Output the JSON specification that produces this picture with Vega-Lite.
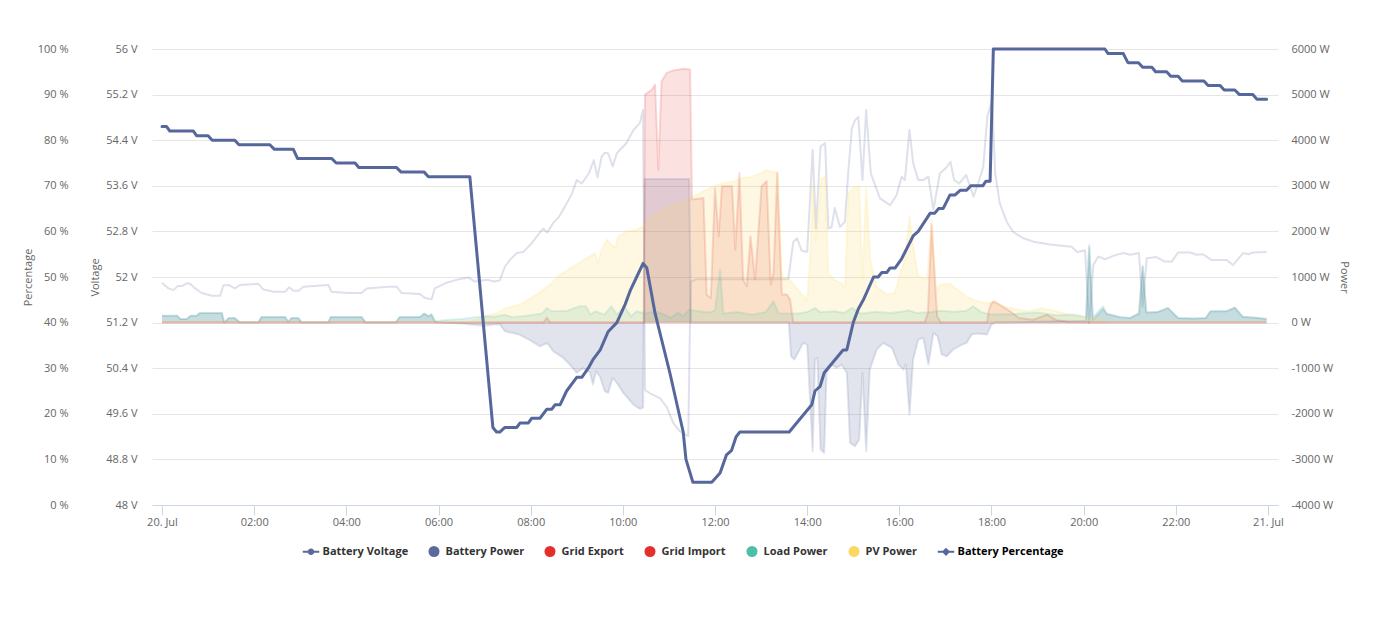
{
"$schema": "https://vega.github.io/schema/vega-lite/v6.json",
"width": 1126, "height": 456,
"autosize": {"type": "none"},
"padding": {"left": 152, "top": 49, "right": 97, "bottom": 130},
"background": "#ffffff",
"config": {
  "font": "Open Sans",
  "view": {"stroke": null},
  "axis": {"labelFont": "Open Sans", "labelFontSize": 11, "labelColor": "#666666", "titleFont": "Open Sans", "titleFontSize": 11, "titleFontWeight": "normal", "titleColor": "#666666"}
},
"datasets": {
"pct": [
{"s":"Battery Percentage","h":0,"p":83},{"s":"Battery Percentage","h":0.10,"p":83},{"s":"Battery Percentage","h":0.17,"p":82},{"s":"Battery Percentage","h":0.68,"p":82},{"s":"Battery Percentage","h":0.75,"p":81},{"s":"Battery Percentage","h":1.00,"p":81},{"s":"Battery Percentage","h":1.09,"p":80},{"s":"Battery Percentage","h":1.58,"p":80},{"s":"Battery Percentage","h":1.67,"p":79},{"s":"Battery Percentage","h":2.34,"p":79},{"s":"Battery Percentage","h":2.44,"p":78},{"s":"Battery Percentage","h":2.85,"p":78},{"s":"Battery Percentage","h":2.94,"p":76},{"s":"Battery Percentage","h":3.68,"p":76},{"s":"Battery Percentage","h":3.78,"p":75},{"s":"Battery Percentage","h":4.19,"p":75},{"s":"Battery Percentage","h":4.27,"p":74},{"s":"Battery Percentage","h":5.09,"p":74},{"s":"Battery Percentage","h":5.19,"p":73},{"s":"Battery Percentage","h":5.69,"p":73},{"s":"Battery Percentage","h":5.78,"p":72},{"s":"Battery Percentage","h":6.68,"p":72},
{"s":"Battery Percentage","h":7.18,"p":17},{"s":"Battery Percentage","h":7.26,"p":16},{"s":"Battery Percentage","h":7.33,"p":16},{"s":"Battery Percentage","h":7.44,"p":17},{"s":"Battery Percentage","h":7.70,"p":17},{"s":"Battery Percentage","h":7.77,"p":18},{"s":"Battery Percentage","h":7.95,"p":18},{"s":"Battery Percentage","h":8.02,"p":19},{"s":"Battery Percentage","h":8.20,"p":19},{"s":"Battery Percentage","h":8.35,"p":21},{"s":"Battery Percentage","h":8.46,"p":21},{"s":"Battery Percentage","h":8.53,"p":22},{"s":"Battery Percentage","h":8.64,"p":22},{"s":"Battery Percentage","h":8.78,"p":25},{"s":"Battery Percentage","h":9.00,"p":28},{"s":"Battery Percentage","h":9.11,"p":28},{"s":"Battery Percentage","h":9.25,"p":30},{"s":"Battery Percentage","h":9.36,"p":32},{"s":"Battery Percentage","h":9.51,"p":34},{"s":"Battery Percentage","h":9.68,"p":38},{"s":"Battery Percentage","h":9.87,"p":40},{"s":"Battery Percentage","h":10.05,"p":44},{"s":"Battery Percentage","h":10.16,"p":47},{"s":"Battery Percentage","h":10.30,"p":50},{"s":"Battery Percentage","h":10.44,"p":53},{"s":"Battery Percentage","h":10.52,"p":52},{"s":"Battery Percentage","h":10.70,"p":42},{"s":"Battery Percentage","h":11.02,"p":29},{"s":"Battery Percentage","h":11.31,"p":16},{"s":"Battery Percentage","h":11.37,"p":10},{"s":"Battery Percentage","h":11.52,"p":5},{"s":"Battery Percentage","h":11.93,"p":5},{"s":"Battery Percentage","h":12.11,"p":7},{"s":"Battery Percentage","h":12.25,"p":11},{"s":"Battery Percentage","h":12.36,"p":12},{"s":"Battery Percentage","h":12.46,"p":15},{"s":"Battery Percentage","h":12.54,"p":16},{"s":"Battery Percentage","h":13.61,"p":16},{"s":"Battery Percentage","h":14.10,"p":22},{"s":"Battery Percentage","h":14.17,"p":25},{"s":"Battery Percentage","h":14.28,"p":26},{"s":"Battery Percentage","h":14.37,"p":29},{"s":"Battery Percentage","h":14.78,"p":34},{"s":"Battery Percentage","h":14.86,"p":34},{"s":"Battery Percentage","h":15.00,"p":40},{"s":"Battery Percentage","h":15.11,"p":43},{"s":"Battery Percentage","h":15.22,"p":45},{"s":"Battery Percentage","h":15.44,"p":50},{"s":"Battery Percentage","h":15.54,"p":50},{"s":"Battery Percentage","h":15.62,"p":51},{"s":"Battery Percentage","h":15.73,"p":51},{"s":"Battery Percentage","h":15.80,"p":52},{"s":"Battery Percentage","h":15.91,"p":52},{"s":"Battery Percentage","h":16.05,"p":54},{"s":"Battery Percentage","h":16.30,"p":59},{"s":"Battery Percentage","h":16.41,"p":60},{"s":"Battery Percentage","h":16.67,"p":64},{"s":"Battery Percentage","h":16.77,"p":64},{"s":"Battery Percentage","h":16.85,"p":65},{"s":"Battery Percentage","h":16.95,"p":65},{"s":"Battery Percentage","h":17.10,"p":68},{"s":"Battery Percentage","h":17.21,"p":68},{"s":"Battery Percentage","h":17.32,"p":69},{"s":"Battery Percentage","h":17.46,"p":69},{"s":"Battery Percentage","h":17.55,"p":70},{"s":"Battery Percentage","h":17.81,"p":70},{"s":"Battery Percentage","h":17.88,"p":71},{"s":"Battery Percentage","h":17.97,"p":71},{"s":"Battery Percentage","h":18.04,"p":100},{"s":"Battery Percentage","h":20.46,"p":100},{"s":"Battery Percentage","h":20.53,"p":99},{"s":"Battery Percentage","h":20.86,"p":99},{"s":"Battery Percentage","h":20.96,"p":97},{"s":"Battery Percentage","h":21.19,"p":97},{"s":"Battery Percentage","h":21.28,"p":96},{"s":"Battery Percentage","h":21.48,"p":96},{"s":"Battery Percentage","h":21.56,"p":95},{"s":"Battery Percentage","h":21.80,"p":95},{"s":"Battery Percentage","h":21.89,"p":94},{"s":"Battery Percentage","h":22.05,"p":94},{"s":"Battery Percentage","h":22.14,"p":93},{"s":"Battery Percentage","h":22.61,"p":93},{"s":"Battery Percentage","h":22.70,"p":92},{"s":"Battery Percentage","h":22.96,"p":92},{"s":"Battery Percentage","h":23.05,"p":91},{"s":"Battery Percentage","h":23.28,"p":91},{"s":"Battery Percentage","h":23.38,"p":90},{"s":"Battery Percentage","h":23.67,"p":90},{"s":"Battery Percentage","h":23.76,"p":89},{"s":"Battery Percentage","h":23.97,"p":89}
],
"volt": [
{"s":"Battery Voltage","h":0,"v":51.90},{"s":"Battery Voltage","h":0.14,"v":51.80},{"s":"Battery Voltage","h":0.25,"v":51.77},{"s":"Battery Voltage","h":0.34,"v":51.84},{"s":"Battery Voltage","h":0.43,"v":51.84},{"s":"Battery Voltage","h":0.54,"v":51.89},{"s":"Battery Voltage","h":0.61,"v":51.88},{"s":"Battery Voltage","h":0.72,"v":51.80},{"s":"Battery Voltage","h":0.86,"v":51.72},{"s":"Battery Voltage","h":1.08,"v":51.67},{"s":"Battery Voltage","h":1.26,"v":51.67},{"s":"Battery Voltage","h":1.33,"v":51.85},{"s":"Battery Voltage","h":1.44,"v":51.86},{"s":"Battery Voltage","h":1.58,"v":51.80},{"s":"Battery Voltage","h":1.69,"v":51.86},{"s":"Battery Voltage","h":2.09,"v":51.88},{"s":"Battery Voltage","h":2.20,"v":51.78},{"s":"Battery Voltage","h":2.42,"v":51.74},{"s":"Battery Voltage","h":2.67,"v":51.74},{"s":"Battery Voltage","h":2.76,"v":51.82},{"s":"Battery Voltage","h":2.85,"v":51.76},{"s":"Battery Voltage","h":2.96,"v":51.76},{"s":"Battery Voltage","h":3.07,"v":51.83},{"s":"Battery Voltage","h":3.61,"v":51.86},{"s":"Battery Voltage","h":3.68,"v":51.74},{"s":"Battery Voltage","h":4.04,"v":51.72},{"s":"Battery Voltage","h":4.33,"v":51.72},{"s":"Battery Voltage","h":4.44,"v":51.80},{"s":"Battery Voltage","h":4.91,"v":51.83},{"s":"Battery Voltage","h":5.09,"v":51.83},{"s":"Battery Voltage","h":5.20,"v":51.72},{"s":"Battery Voltage","h":5.60,"v":51.70},{"s":"Battery Voltage","h":5.71,"v":51.63},{"s":"Battery Voltage","h":5.85,"v":51.61},{"s":"Battery Voltage","h":5.92,"v":51.80},{"s":"Battery Voltage","h":6.14,"v":51.89},{"s":"Battery Voltage","h":6.39,"v":51.95},{"s":"Battery Voltage","h":6.65,"v":51.99},{"s":"Battery Voltage","h":6.79,"v":51.92},{"s":"Battery Voltage","h":7.08,"v":51.95},{"s":"Battery Voltage","h":7.19,"v":51.92},{"s":"Battery Voltage","h":7.33,"v":51.94},{"s":"Battery Voltage","h":7.44,"v":52.18},{"s":"Battery Voltage","h":7.55,"v":52.30},{"s":"Battery Voltage","h":7.70,"v":52.42},{"s":"Battery Voltage","h":7.84,"v":52.44},{"s":"Battery Voltage","h":8.02,"v":52.59},{"s":"Battery Voltage","h":8.13,"v":52.71},{"s":"Battery Voltage","h":8.27,"v":52.85},{"s":"Battery Voltage","h":8.36,"v":52.78},{"s":"Battery Voltage","h":8.49,"v":52.95},{"s":"Battery Voltage","h":8.62,"v":53.06},{"s":"Battery Voltage","h":8.78,"v":53.29},{"s":"Battery Voltage","h":8.89,"v":53.45},{"s":"Battery Voltage","h":9.00,"v":53.70},{"s":"Battery Voltage","h":9.11,"v":53.64},{"s":"Battery Voltage","h":9.27,"v":53.83},{"s":"Battery Voltage","h":9.37,"v":54.05},{"s":"Battery Voltage","h":9.45,"v":53.75},{"s":"Battery Voltage","h":9.54,"v":54.11},{"s":"Battery Voltage","h":9.61,"v":54.18},{"s":"Battery Voltage","h":9.68,"v":54.17},{"s":"Battery Voltage","h":9.78,"v":53.94},{"s":"Battery Voltage","h":9.87,"v":54.17},{"s":"Battery Voltage","h":10.08,"v":54.35},{"s":"Battery Voltage","h":10.23,"v":54.58},{"s":"Battery Voltage","h":10.37,"v":54.70},{"s":"Battery Voltage","h":10.44,"v":54.93},{"s":"Battery Voltage","h":10.48,"v":50.02},{"s":"Battery Voltage","h":10.59,"v":49.96},{"s":"Battery Voltage","h":10.81,"v":49.87},{"s":"Battery Voltage","h":10.95,"v":49.72},{"s":"Battery Voltage","h":11.10,"v":49.43},{"s":"Battery Voltage","h":11.24,"v":49.29},{"s":"Battery Voltage","h":11.42,"v":49.21},{"s":"Battery Voltage","h":11.47,"v":51.92},{"s":"Battery Voltage","h":11.60,"v":51.96},{"s":"Battery Voltage","h":13.59,"v":51.96},{"s":"Battery Voltage","h":13.70,"v":52.62},{"s":"Battery Voltage","h":13.78,"v":52.68},{"s":"Battery Voltage","h":13.88,"v":52.46},{"s":"Battery Voltage","h":14.00,"v":52.44},{"s":"Battery Voltage","h":14.12,"v":54.23},{"s":"Battery Voltage","h":14.19,"v":52.85},{"s":"Battery Voltage","h":14.29,"v":54.29},{"s":"Battery Voltage","h":14.39,"v":54.35},{"s":"Battery Voltage","h":14.46,"v":52.85},{"s":"Battery Voltage","h":14.53,"v":52.88},{"s":"Battery Voltage","h":14.60,"v":53.21},{"s":"Battery Voltage","h":14.71,"v":52.88},{"s":"Battery Voltage","h":14.82,"v":52.97},{"s":"Battery Voltage","h":14.89,"v":53.82},{"s":"Battery Voltage","h":14.97,"v":54.61},{"s":"Battery Voltage","h":15.04,"v":54.75},{"s":"Battery Voltage","h":15.11,"v":54.81},{"s":"Battery Voltage","h":15.20,"v":53.70},{"s":"Battery Voltage","h":15.28,"v":54.93},{"s":"Battery Voltage","h":15.38,"v":53.82},{"s":"Battery Voltage","h":15.58,"v":53.38},{"s":"Battery Voltage","h":15.80,"v":53.26},{"s":"Battery Voltage","h":15.94,"v":53.44},{"s":"Battery Voltage","h":16.05,"v":53.76},{"s":"Battery Voltage","h":16.12,"v":53.70},{"s":"Battery Voltage","h":16.22,"v":54.58},{"s":"Battery Voltage","h":16.30,"v":54.00},{"s":"Battery Voltage","h":16.41,"v":53.70},{"s":"Battery Voltage","h":16.52,"v":53.70},{"s":"Battery Voltage","h":16.63,"v":53.76},{"s":"Battery Voltage","h":16.74,"v":53.18},{"s":"Battery Voltage","h":16.88,"v":53.82},{"s":"Battery Voltage","h":17.01,"v":53.91},{"s":"Battery Voltage","h":17.11,"v":54.02},{"s":"Battery Voltage","h":17.19,"v":53.70},{"s":"Battery Voltage","h":17.30,"v":53.64},{"s":"Battery Voltage","h":17.45,"v":53.79},{"s":"Battery Voltage","h":17.61,"v":53.41},{"s":"Battery Voltage","h":17.71,"v":53.64},{"s":"Battery Voltage","h":17.82,"v":53.93},{"s":"Battery Voltage","h":17.91,"v":54.81},{"s":"Battery Voltage","h":18.01,"v":55.10},{"s":"Battery Voltage","h":18.05,"v":54.40},{"s":"Battery Voltage","h":18.08,"v":53.82},{"s":"Battery Voltage","h":18.18,"v":53.29},{"s":"Battery Voltage","h":18.33,"v":52.97},{"s":"Battery Voltage","h":18.47,"v":52.79},{"s":"Battery Voltage","h":18.69,"v":52.68},{"s":"Battery Voltage","h":18.91,"v":52.62},{"s":"Battery Voltage","h":19.27,"v":52.57},{"s":"Battery Voltage","h":19.74,"v":52.53},{"s":"Battery Voltage","h":19.86,"v":52.44},{"s":"Battery Voltage","h":20.03,"v":52.47},{"s":"Battery Voltage","h":20.12,"v":51.19},{"s":"Battery Voltage","h":20.21,"v":52.21},{"s":"Battery Voltage","h":20.32,"v":52.36},{"s":"Battery Voltage","h":20.46,"v":52.31},{"s":"Battery Voltage","h":20.64,"v":52.37},{"s":"Battery Voltage","h":20.86,"v":52.42},{"s":"Battery Voltage","h":21.01,"v":52.39},{"s":"Battery Voltage","h":21.20,"v":52.42},{"s":"Battery Voltage","h":21.28,"v":51.48},{"s":"Battery Voltage","h":21.37,"v":52.33},{"s":"Battery Voltage","h":21.58,"v":52.35},{"s":"Battery Voltage","h":21.76,"v":52.27},{"s":"Battery Voltage","h":21.91,"v":52.27},{"s":"Battery Voltage","h":22.05,"v":52.43},{"s":"Battery Voltage","h":22.31,"v":52.43},{"s":"Battery Voltage","h":22.45,"v":52.39},{"s":"Battery Voltage","h":22.59,"v":52.40},{"s":"Battery Voltage","h":22.77,"v":52.30},{"s":"Battery Voltage","h":23.10,"v":52.30},{"s":"Battery Voltage","h":23.24,"v":52.21},{"s":"Battery Voltage","h":23.46,"v":52.42},{"s":"Battery Voltage","h":23.57,"v":52.40},{"s":"Battery Voltage","h":23.67,"v":52.43},{"s":"Battery Voltage","h":23.97,"v":52.44}
],
"pow": [
{"s":"Battery Power","h":0,"w":150},{"s":"Battery Power","h":0.33,"w":150},{"s":"Battery Power","h":0.40,"w":80},{"s":"Battery Power","h":0.54,"w":80},{"s":"Battery Power","h":0.62,"w":150},{"s":"Battery Power","h":0.75,"w":150},{"s":"Battery Power","h":0.82,"w":210},{"s":"Battery Power","h":1.30,"w":210},{"s":"Battery Power","h":1.35,"w":5},{"s":"Battery Power","h":1.45,"w":100},{"s":"Battery Power","h":1.58,"w":100},{"s":"Battery Power","h":1.69,"w":5},{"s":"Battery Power","h":2.09,"w":5},{"s":"Battery Power","h":2.16,"w":125},{"s":"Battery Power","h":2.67,"w":125},{"s":"Battery Power","h":2.74,"w":20},{"s":"Battery Power","h":2.81,"w":100},{"s":"Battery Power","h":2.96,"w":100},{"s":"Battery Power","h":3.03,"w":5},{"s":"Battery Power","h":3.61,"w":5},{"s":"Battery Power","h":3.66,"w":125},{"s":"Battery Power","h":4.33,"w":125},{"s":"Battery Power","h":4.42,"w":5},{"s":"Battery Power","h":5.07,"w":5},{"s":"Battery Power","h":5.16,"w":125},{"s":"Battery Power","h":5.60,"w":125},{"s":"Battery Power","h":5.69,"w":197},{"s":"Battery Power","h":5.78,"w":140},{"s":"Battery Power","h":5.85,"w":180},{"s":"Battery Power","h":5.92,"w":30},
{"s":"Battery Power","h":6.0,"w":0},{"s":"Battery Power","h":6.5,"w":-20},{"s":"Battery Power","h":6.8,"w":-50},{"s":"Battery Power","h":7.0,"w":-70},{"s":"Battery Power","h":7.2,"w":-40},{"s":"Battery Power","h":7.33,"w":-40},{"s":"Battery Power","h":7.44,"w":-190},{"s":"Battery Power","h":7.75,"w":-263},{"s":"Battery Power","h":7.96,"w":-373},{"s":"Battery Power","h":8.20,"w":-520},{"s":"Battery Power","h":8.36,"w":-445},{"s":"Battery Power","h":8.49,"w":-630},{"s":"Battery Power","h":8.71,"w":-775},{"s":"Battery Power","h":8.85,"w":-920},{"s":"Battery Power","h":9.00,"w":-1100},{"s":"Battery Power","h":9.14,"w":-995},{"s":"Battery Power","h":9.29,"w":-1100},{"s":"Battery Power","h":9.35,"w":-1360},{"s":"Battery Power","h":9.42,"w":-1068},{"s":"Battery Power","h":9.50,"w":-1178},{"s":"Battery Power","h":9.61,"w":-1507},{"s":"Battery Power","h":9.68,"w":-1542},{"s":"Battery Power","h":9.78,"w":-1213},{"s":"Battery Power","h":9.87,"w":-1322},{"s":"Battery Power","h":10.01,"w":-1542},{"s":"Battery Power","h":10.23,"w":-1798},{"s":"Battery Power","h":10.37,"w":-1893},{"s":"Battery Power","h":10.44,"w":-1870},{"s":"Battery Power","h":10.47,"w":3150},{"s":"Battery Power","h":11.44,"w":3150},{"s":"Battery Power","h":11.48,"w":0},{"s":"Battery Power","h":13.60,"w":0},{"s":"Battery Power","h":13.65,"w":-740},{"s":"Battery Power","h":13.72,"w":-811},{"s":"Battery Power","h":13.82,"w":-630},{"s":"Battery Power","h":13.91,"w":-445},{"s":"Battery Power","h":14.00,"w":-482},{"s":"Battery Power","h":14.12,"w":-2822},{"s":"Battery Power","h":14.17,"w":-811},{"s":"Battery Power","h":14.22,"w":-775},{"s":"Battery Power","h":14.29,"w":-2785},{"s":"Battery Power","h":14.37,"w":-2858},{"s":"Battery Power","h":14.42,"w":-1103},{"s":"Battery Power","h":14.53,"w":-921},{"s":"Battery Power","h":14.64,"w":-994},{"s":"Battery Power","h":14.75,"w":-921},{"s":"Battery Power","h":14.86,"w":-1103},{"s":"Battery Power","h":14.93,"w":-2638},{"s":"Battery Power","h":15.04,"w":-2712},{"s":"Battery Power","h":15.13,"w":-2566},{"s":"Battery Power","h":15.20,"w":-1103},{"s":"Battery Power","h":15.28,"w":-2822},{"s":"Battery Power","h":15.36,"w":-1030},{"s":"Battery Power","h":15.51,"w":-592},{"s":"Battery Power","h":15.65,"w":-445},{"s":"Battery Power","h":15.84,"w":-555},{"s":"Battery Power","h":15.98,"w":-921},{"s":"Battery Power","h":16.09,"w":-1030},{"s":"Battery Power","h":16.14,"w":-921},{"s":"Battery Power","h":16.22,"w":-2017},{"s":"Battery Power","h":16.30,"w":-811},{"s":"Battery Power","h":16.41,"w":-373},{"s":"Battery Power","h":16.52,"w":-336},{"s":"Battery Power","h":16.63,"w":-921},{"s":"Battery Power","h":16.74,"w":-226},{"s":"Battery Power","h":16.83,"w":-300},{"s":"Battery Power","h":16.92,"w":-702},{"s":"Battery Power","h":17.03,"w":-739},{"s":"Battery Power","h":17.17,"w":-592},{"s":"Battery Power","h":17.36,"w":-482},{"s":"Battery Power","h":17.46,"w":-445},{"s":"Battery Power","h":17.57,"w":-263},{"s":"Battery Power","h":17.68,"w":-241},{"s":"Battery Power","h":17.90,"w":-263},{"s":"Battery Power","h":18.00,"w":-44},{"s":"Battery Power","h":18.08,"w":0},{"s":"Battery Power","h":20.05,"w":40},{"s":"Battery Power","h":20.12,"w":1650},{"s":"Battery Power","h":20.20,"w":60},{"s":"Battery Power","h":20.42,"w":300},{"s":"Battery Power","h":20.50,"w":190},{"s":"Battery Power","h":20.80,"w":120},{"s":"Battery Power","h":21.00,"w":100},{"s":"Battery Power","h":21.20,"w":200},{"s":"Battery Power","h":21.28,"w":1235},{"s":"Battery Power","h":21.36,"w":220},{"s":"Battery Power","h":21.60,"w":230},{"s":"Battery Power","h":21.83,"w":322},{"s":"Battery Power","h":22.05,"w":100},{"s":"Battery Power","h":22.40,"w":90},{"s":"Battery Power","h":22.65,"w":100},{"s":"Battery Power","h":22.75,"w":250},{"s":"Battery Power","h":23.10,"w":250},{"s":"Battery Power","h":23.28,"w":330},{"s":"Battery Power","h":23.45,"w":130},{"s":"Battery Power","h":23.80,"w":100},{"s":"Battery Power","h":23.97,"w":80},
{"s":"Grid Export","h":0,"w":0},{"s":"Grid Export","h":8.28,"w":0},{"s":"Grid Export","h":8.35,"w":110},{"s":"Grid Export","h":8.42,"w":0},{"s":"Grid Export","h":10.46,"w":0},{"s":"Grid Export","h":10.48,"w":5000},{"s":"Grid Export","h":10.63,"w":5110},{"s":"Grid Export","h":10.70,"w":5220},{"s":"Grid Export","h":10.77,"w":3355},{"s":"Grid Export","h":10.84,"w":5290},{"s":"Grid Export","h":10.95,"w":5475},{"s":"Grid Export","h":11.09,"w":5530},{"s":"Grid Export","h":11.31,"w":5565},{"s":"Grid Export","h":11.46,"w":5550},{"s":"Grid Export","h":11.50,"w":2700},{"s":"Grid Export","h":11.75,"w":2734},{"s":"Grid Export","h":11.82,"w":614},{"s":"Grid Export","h":11.91,"w":541},{"s":"Grid Export","h":12.00,"w":2950},{"s":"Grid Export","h":12.08,"w":1893},{"s":"Grid Export","h":12.15,"w":2990},{"s":"Grid Export","h":12.37,"w":2990},{"s":"Grid Export","h":12.44,"w":1600},{"s":"Grid Export","h":12.53,"w":3283},{"s":"Grid Export","h":12.61,"w":943},{"s":"Grid Export","h":12.69,"w":800},{"s":"Grid Export","h":12.77,"w":1893},{"s":"Grid Export","h":12.87,"w":943},{"s":"Grid Export","h":13.01,"w":2990},{"s":"Grid Export","h":13.12,"w":3100},{"s":"Grid Export","h":13.21,"w":833},{"s":"Grid Export","h":13.27,"w":1090},{"s":"Grid Export","h":13.35,"w":3283},{"s":"Grid Export","h":13.45,"w":614},{"s":"Grid Export","h":13.56,"w":614},{"s":"Grid Export","h":13.63,"w":504},{"s":"Grid Export","h":13.70,"w":0},{"s":"Grid Export","h":16.55,"w":0},{"s":"Grid Export","h":16.62,"w":212},{"s":"Grid Export","h":16.70,"w":2150},{"s":"Grid Export","h":16.82,"w":140},{"s":"Grid Export","h":16.90,"w":0},{"s":"Grid Export","h":17.90,"w":0},{"s":"Grid Export","h":17.95,"w":300},{"s":"Grid Export","h":18.00,"w":420},{"s":"Grid Export","h":18.05,"w":467},{"s":"Grid Export","h":18.20,"w":380},{"s":"Grid Export","h":18.40,"w":248},{"s":"Grid Export","h":18.60,"w":102},{"s":"Grid Export","h":18.90,"w":60},{"s":"Grid Export","h":19.20,"w":175},{"s":"Grid Export","h":19.40,"w":60},{"s":"Grid Export","h":19.70,"w":10},{"s":"Grid Export","h":19.85,"w":0},{"s":"Grid Export","h":23.97,"w":0},
{"s":"Grid Import","h":0,"w":0},{"s":"Grid Import","h":23.97,"w":0},
{"s":"Load Power","h":0,"w":150},{"s":"Load Power","h":0.33,"w":150},{"s":"Load Power","h":0.40,"w":80},{"s":"Load Power","h":0.54,"w":80},{"s":"Load Power","h":0.62,"w":150},{"s":"Load Power","h":0.75,"w":150},{"s":"Load Power","h":0.82,"w":210},{"s":"Load Power","h":1.30,"w":210},{"s":"Load Power","h":1.35,"w":5},{"s":"Load Power","h":1.45,"w":100},{"s":"Load Power","h":1.58,"w":100},{"s":"Load Power","h":1.69,"w":5},{"s":"Load Power","h":2.09,"w":5},{"s":"Load Power","h":2.16,"w":125},{"s":"Load Power","h":2.67,"w":125},{"s":"Load Power","h":2.74,"w":20},{"s":"Load Power","h":2.81,"w":100},{"s":"Load Power","h":2.96,"w":100},{"s":"Load Power","h":3.03,"w":5},{"s":"Load Power","h":3.61,"w":5},{"s":"Load Power","h":3.66,"w":125},{"s":"Load Power","h":4.33,"w":125},{"s":"Load Power","h":4.42,"w":5},{"s":"Load Power","h":5.07,"w":5},{"s":"Load Power","h":5.16,"w":125},{"s":"Load Power","h":5.60,"w":125},{"s":"Load Power","h":5.69,"w":197},{"s":"Load Power","h":5.78,"w":140},{"s":"Load Power","h":5.85,"w":180},{"s":"Load Power","h":5.92,"w":30},{"s":"Load Power","h":6.2,"w":60},{"s":"Load Power","h":6.5,"w":80},{"s":"Load Power","h":6.79,"w":120},{"s":"Load Power","h":7.0,"w":140},{"s":"Load Power","h":7.2,"w":130},{"s":"Load Power","h":7.44,"w":170},{"s":"Load Power","h":7.6,"w":120},{"s":"Load Power","h":7.9,"w":150},{"s":"Load Power","h":8.25,"w":200},{"s":"Load Power","h":8.35,"w":320},{"s":"Load Power","h":8.45,"w":250},{"s":"Load Power","h":8.8,"w":260},{"s":"Load Power","h":9.06,"w":360},{"s":"Load Power","h":9.2,"w":360},{"s":"Load Power","h":9.3,"w":175},{"s":"Load Power","h":9.4,"w":250},{"s":"Load Power","h":9.6,"w":175},{"s":"Load Power","h":9.75,"w":360},{"s":"Load Power","h":9.87,"w":175},{"s":"Load Power","h":10.03,"w":360},{"s":"Load Power","h":10.18,"w":140},{"s":"Load Power","h":10.3,"w":250},{"s":"Load Power","h":10.5,"w":200},{"s":"Load Power","h":10.7,"w":250},{"s":"Load Power","h":10.9,"w":175},{"s":"Load Power","h":11.05,"w":100},{"s":"Load Power","h":11.2,"w":220},{"s":"Load Power","h":11.3,"w":140},{"s":"Load Power","h":11.45,"w":280},{"s":"Load Power","h":11.65,"w":250},{"s":"Load Power","h":11.9,"w":220},{"s":"Load Power","h":12.0,"w":280},{"s":"Load Power","h":12.11,"w":1160},{"s":"Load Power","h":12.18,"w":200},{"s":"Load Power","h":12.5,"w":230},{"s":"Load Power","h":12.8,"w":170},{"s":"Load Power","h":13.1,"w":230},{"s":"Load Power","h":13.27,"w":467},{"s":"Load Power","h":13.38,"w":200},{"s":"Load Power","h":13.8,"w":200},{"s":"Load Power","h":14.0,"w":230},{"s":"Load Power","h":14.17,"w":322},{"s":"Load Power","h":14.28,"w":230},{"s":"Load Power","h":14.6,"w":250},{"s":"Load Power","h":14.8,"w":210},{"s":"Load Power","h":14.97,"w":322},{"s":"Load Power","h":15.16,"w":200},{"s":"Load Power","h":15.5,"w":240},{"s":"Load Power","h":15.8,"w":210},{"s":"Load Power","h":16.1,"w":250},{"s":"Load Power","h":16.2,"w":270},{"s":"Load Power","h":16.38,"w":210},{"s":"Load Power","h":16.7,"w":230},{"s":"Load Power","h":16.9,"w":260},{"s":"Load Power","h":17.2,"w":240},{"s":"Load Power","h":17.45,"w":260},{"s":"Load Power","h":17.6,"w":358},{"s":"Load Power","h":17.78,"w":230},{"s":"Load Power","h":18.0,"w":175},{"s":"Load Power","h":18.5,"w":190},{"s":"Load Power","h":19.0,"w":220},{"s":"Load Power","h":19.4,"w":160},{"s":"Load Power","h":19.8,"w":175},{"s":"Load Power","h":20.05,"w":120},{"s":"Load Power","h":20.12,"w":1710},{"s":"Load Power","h":20.20,"w":120},{"s":"Load Power","h":20.42,"w":357},{"s":"Load Power","h":20.50,"w":200},{"s":"Load Power","h":20.80,"w":120},{"s":"Load Power","h":21.00,"w":100},{"s":"Load Power","h":21.20,"w":200},{"s":"Load Power","h":21.28,"w":1235},{"s":"Load Power","h":21.36,"w":220},{"s":"Load Power","h":21.60,"w":230},{"s":"Load Power","h":21.83,"w":322},{"s":"Load Power","h":22.05,"w":100},{"s":"Load Power","h":22.40,"w":90},{"s":"Load Power","h":22.65,"w":100},{"s":"Load Power","h":22.75,"w":250},{"s":"Load Power","h":23.10,"w":250},{"s":"Load Power","h":23.28,"w":330},{"s":"Load Power","h":23.45,"w":130},{"s":"Load Power","h":23.80,"w":100},{"s":"Load Power","h":23.97,"w":80},
{"s":"PV Power","h":0,"w":0},{"s":"PV Power","h":6.2,"w":0},{"s":"PV Power","h":6.4,"w":20},{"s":"PV Power","h":6.7,"w":30},{"s":"PV Power","h":6.9,"w":90},{"s":"PV Power","h":6.97,"w":140},{"s":"PV Power","h":7.26,"w":212},{"s":"PV Power","h":7.48,"w":322},{"s":"PV Power","h":7.77,"w":395},{"s":"PV Power","h":8.13,"w":614},{"s":"PV Power","h":8.42,"w":833},{"s":"PV Power","h":8.64,"w":1053},{"s":"PV Power","h":8.93,"w":1235},{"s":"PV Power","h":9.22,"w":1418},{"s":"PV Power","h":9.40,"w":1528},{"s":"PV Power","h":9.45,"w":1309},{"s":"PV Power","h":9.54,"w":1600},{"s":"PV Power","h":9.65,"w":1820},{"s":"PV Power","h":9.83,"w":1638},{"s":"PV Power","h":9.90,"w":1893},{"s":"PV Power","h":10.08,"w":2002},{"s":"PV Power","h":10.30,"w":2039},{"s":"PV Power","h":10.44,"w":2112},{"s":"PV Power","h":10.59,"w":2296},{"s":"PV Power","h":10.75,"w":2400},{"s":"PV Power","h":10.95,"w":2515},{"s":"PV Power","h":11.2,"w":2600},{"s":"PV Power","h":11.38,"w":2697},{"s":"PV Power","h":11.53,"w":2770},{"s":"PV Power","h":11.75,"w":2880},{"s":"PV Power","h":11.96,"w":2990},{"s":"PV Power","h":12.18,"w":3063},{"s":"PV Power","h":12.40,"w":3100},{"s":"PV Power","h":12.57,"w":3170},{"s":"PV Power","h":12.8,"w":3200},{"s":"PV Power","h":13.05,"w":3300},{"s":"PV Power","h":13.1,"w":3355},{"s":"PV Power","h":13.25,"w":3300},{"s":"PV Power","h":13.36,"w":3300},{"s":"PV Power","h":13.45,"w":1000},{"s":"PV Power","h":13.6,"w":960},{"s":"PV Power","h":13.7,"w":850},{"s":"PV Power","h":13.9,"w":600},{"s":"PV Power","h":14.0,"w":500},{"s":"PV Power","h":14.07,"w":1528},{"s":"PV Power","h":14.12,"w":3063},{"s":"PV Power","h":14.19,"w":1800},{"s":"PV Power","h":14.3,"w":3136},{"s":"PV Power","h":14.39,"w":3209},{"s":"PV Power","h":14.46,"w":1090},{"s":"PV Power","h":14.57,"w":943},{"s":"PV Power","h":14.75,"w":870},{"s":"PV Power","h":14.82,"w":760},{"s":"PV Power","h":14.89,"w":2844},{"s":"PV Power","h":15.0,"w":2954},{"s":"PV Power","h":15.13,"w":2990},{"s":"PV Power","h":15.2,"w":943},{"s":"PV Power","h":15.28,"w":2954},{"s":"PV Power","h":15.37,"w":1382},{"s":"PV Power","h":15.5,"w":796},{"s":"PV Power","h":15.72,"w":614},{"s":"PV Power","h":15.9,"w":650},{"s":"PV Power","h":16.01,"w":1053},{"s":"PV Power","h":16.12,"w":1382},{"s":"PV Power","h":16.22,"w":2331},{"s":"PV Power","h":16.30,"w":1674},{"s":"PV Power","h":16.41,"w":1016},{"s":"PV Power","h":16.6,"w":950},{"s":"PV Power","h":16.7,"w":2250},{"s":"PV Power","h":16.8,"w":724},{"s":"PV Power","h":16.88,"w":833},{"s":"PV Power","h":17.1,"w":850},{"s":"PV Power","h":17.3,"w":700},{"s":"PV Power","h":17.45,"w":577},{"s":"PV Power","h":17.6,"w":504},{"s":"PV Power","h":17.83,"w":431},{"s":"PV Power","h":18.0,"w":440},{"s":"PV Power","h":18.05,"w":467},{"s":"PV Power","h":18.25,"w":357},{"s":"PV Power","h":18.5,"w":300},{"s":"PV Power","h":18.8,"w":248},{"s":"PV Power","h":19.1,"w":322},{"s":"PV Power","h":19.4,"w":250},{"s":"PV Power","h":19.7,"w":175},{"s":"PV Power","h":20.1,"w":100},{"s":"PV Power","h":20.42,"w":66},{"s":"PV Power","h":20.55,"w":0},{"s":"PV Power","h":23.97,"w":0}
]
},
"encoding": {
  "x": {"field": "h", "type": "quantitative",
    "scale": {"domain": [-0.217, 24.217], "nice": false, "zero": false},
    "axis": {"title": null, "values": [0,2,4,6,8,10,12,14,16,18,20,22,24],
      "labelExpr": "datum.value==0?'20. Jul':datum.value==24?'21. Jul':(datum.value<10?'0':'')+datum.value+':00'",
      "grid": false, "domainColor": "#ccd6eb", "tickColor": "#ccd6eb", "tickSize": 10, "labelPadding": 1, "labelColor": "#666666",
      "labelFlush": false, "labelOverlap": false, "labelBound": false}},
  "color": {"field": "s", "type": "nominal",
    "scale": {"domain": ["Battery Voltage","Battery Power","Grid Export","Grid Import","Load Power","PV Power","Battery Percentage"],
              "range": ["#5b6a9c","#5b6a9c","#e3302b","#e3302b","#4cbfa6","#f9d95f","#56679c"]},
    "legend": {"title": null, "orient": "none", "legendX": 153.5, "legendY": 497, "direction": "horizontal",
      "padding": 0, "columnPadding": 20, "labelOffset": 6, "symbolSize": 121,
      "labelFont": "Open Sans", "labelFontSize": 11, "labelFontWeight": "bold", "labelColor": "#333333", "labelLimit": 300,
      "encode": {
        "symbols": {"update": {
          "shape": {"signal": "datum.value==='Battery Voltage'?'M-1.5,-0.18H1.5V0.18H-1.5Z M-0.6,0A0.6,0.6 0 1 1 0.6,0A0.6,0.6 0 1 1 -0.6,0Z':datum.value==='Battery Percentage'?'M-1.5,-0.18H1.5V0.18H-1.5Z M0,-0.75L0.75,0L0,0.75L-0.75,0Z':'circle'"},
          "fill": {"scale": "color", "field": "value"},
          "fillOpacity": {"value": 1}, "opacity": {"value": 1}, "strokeWidth": {"value": 0}}},
        "labels": {"update": {"fill": {"signal": "datum.value==='Battery Percentage'?'#000000':'#333333'"}}}
      }}}
},
"layer": [
  {"data": {"name": "volt"},
   "mark": {"type": "line", "strokeWidth": 2, "opacity": 0.2, "strokeJoin": "round"},
   "encoding": {"y": {"field": "v", "type": "quantitative",
     "scale": {"domain": [48, 56], "nice": false, "zero": false},
     "axis": {"orient": "left", "offset": 0, "values": [48,48.8,49.6,50.4,51.2,52,52.8,53.6,54.4,55.2,56],
       "labelExpr": "format(datum.value,'.1~f')+' V'", "grid": true, "gridColor": "#e6e6e6", "domain": false, "ticks": false, "tickSize": 0,
       "labelPadding": 15, "labelColor": "#666666", "title": "Voltage", "titleX": -57, "titleY": 228, "titleAngle": -90, "titleBaseline": "middle", "titleAlign": "center"}}}},
  {"data": {"name": "pow"},
   "encoding": {"y": {"field": "w", "type": "quantitative", "stack": null,
     "scale": {"domain": [-4000, 6000], "nice": false, "zero": false},
     "axis": {"orient": "right", "values": [-4000,-3000,-2000,-1000,0,1000,2000,3000,4000,5000,6000],
       "labelExpr": "datum.value+' W'", "grid": false, "domain": false, "ticks": false, "tickSize": 0,
       "labelPadding": 13, "labelColor": "#666666", "title": "Power", "titleX": 65, "titleY": 228, "titleAngle": 90, "titleBaseline": "middle", "titleAlign": "center"}}},
   "layer": [
     {"mark": {"type": "area", "strokeWidth": 0},
      "encoding": {"y2": {"datum": 0},
        "fillOpacity": {"condition": {"test": "datum.s==='Grid Export'||datum.s==='Grid Import'", "value": 0.14}, "value": 0.18}}},
     {"mark": {"type": "line", "strokeWidth": 2, "strokeOpacity": 0.17, "strokeJoin": "round"}}
   ]},
  {"data": {"name": "pct"},
   "mark": {"type": "line", "strokeWidth": 3, "strokeJoin": "round", "strokeCap": "round"},
   "encoding": {"y": {"field": "p", "type": "quantitative",
     "scale": {"domain": [0, 100], "nice": false, "zero": false},
     "axis": {"orient": "left", "offset": 69, "values": [0,10,20,30,40,50,60,70,80,90,100],
       "labelExpr": "datum.value+' %'", "grid": false, "domain": false, "ticks": false, "tickSize": 0,
       "labelPadding": 15, "labelColor": "#666666", "title": "Percentage", "titleX": -55, "titleY": 228, "titleAngle": -90, "titleBaseline": "middle", "titleAlign": "center"}}}}
],
"resolve": {"scale": {"y": "independent"}}
}
